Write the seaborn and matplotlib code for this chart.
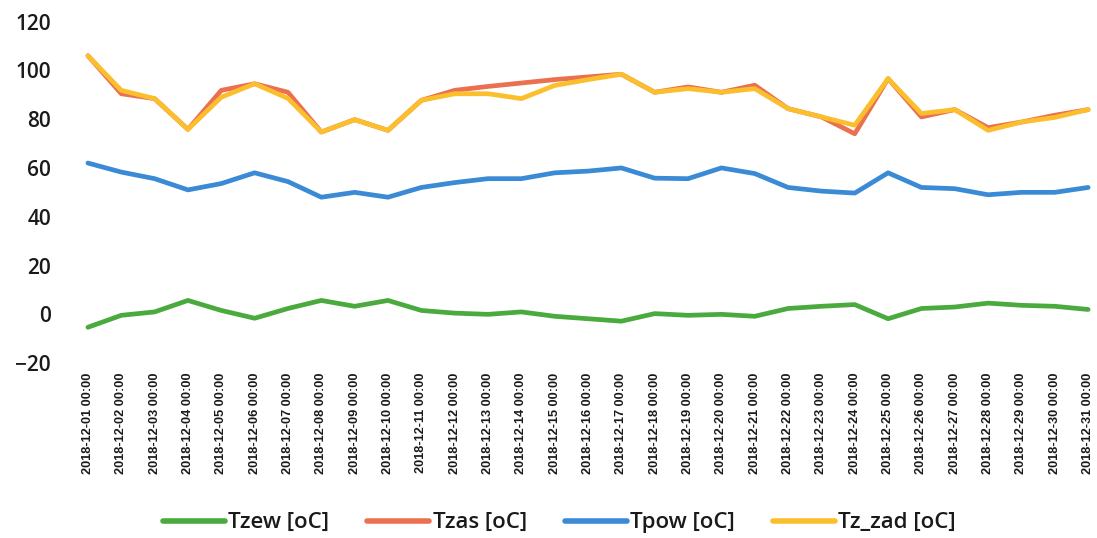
import numpy as np
import pandas as pd
import matplotlib
matplotlib.use("Agg")
import matplotlib.pyplot as plt
import seaborn as sns

dates = [f"2018-12-{d:02d} 00:00" for d in range(1, 32)]

tzew = [-5.3, -0.4, 1.0, 5.7, 1.6, -1.6, 2.4, 5.7, 3.3, 5.7, 1.6, 0.5, 0.0, 1.0, -0.8,
        -1.8, -2.8, 0.3, -0.4, 0.0, -0.8, 2.4, 3.3, 4.0, -1.8, 2.4, 3.0, 4.6, 3.7, 3.3, 2.0]
tzas = [106, 90.4, 88.4, 75.8, 91.8, 94.5, 91.0, 74.7, 79.8, 75.4, 87.7, 91.8, 93.4, 94.8, 96.2,
        97.3, 98.4, 91.0, 93.2, 91.0, 93.9, 84.3, 80.9, 74.0, 96.6, 80.9, 83.9, 76.5, 78.8, 81.6, 83.9]
tpow = [62, 58.3, 55.6, 51, 53.6, 58, 54.4, 48, 50, 48, 52, 54, 55.6, 55.6, 58,
        58.7, 60, 55.8, 55.6, 60, 57.7, 52, 50.5, 49.7, 58, 52, 51.5, 49, 50, 50, 52]
tz_zad = [106, 91.8, 88.4, 75.8, 89.0, 94.5, 88.5, 74.7, 79.8, 75.4, 87.7, 90.4, 90.4, 88.4, 93.8,
          96.2, 98.4, 91.0, 92.5, 91.0, 92.5, 84.3, 80.9, 77.5, 96.6, 82.3, 83.9, 75.4, 78.8, 80.7, 83.9]

series_names = ["Tzew [oC]", "Tzas [oC]", "Tpow [oC]", "Tz_zad [oC]"]
colors = ["#4AAA3E", "#EA7050", "#3A8AD6", "#FBBF2E"]

rows = []
for name, vals in zip(series_names, [tzew, tzas, tpow, tz_zad]):
    for i, v in enumerate(vals):
        rows.append({"idx": i, "value": v, "series": name})
df = pd.DataFrame(rows)

sns.set_theme(style="white")
plt.rcParams["font.family"] = ["Open Sans", "DejaVu Sans"]

fig = plt.figure(figsize=(10.97, 5.38), dpi=100)
ax = fig.add_axes([0.068, 0.325, 0.93, 0.635])

sns.lineplot(data=df, x="idx", y="value", hue="series", hue_order=series_names,
             palette=colors, linewidth=3.4, ax=ax, legend=True)

ax.set_xlim(-0.4, 30.2)
ax.set_ylim(-20, 120)
ax.set_yticks(range(-20, 121, 20))
ax.set_xticks(range(len(dates)))
ax.set_xticklabels(dates, rotation=90, fontsize=9.2, fontweight="bold",
                   family=["Liberation Sans", "DejaVu Sans"])
for lbl in ax.get_yticklabels():
    lbl.set_fontsize(15)
    lbl.set_fontweight("semibold")
ax.tick_params(axis="y", length=0, pad=17, colors="#1a1a1a")
ax.tick_params(axis="x", length=0, pad=7, colors="#1a1a1a")
ax.set_xlabel("")
ax.set_ylabel("")
for s in ax.spines.values():
    s.set_visible(False)

handles, labels = ax.get_legend_handles_labels()
ax.legend_.remove()
fig.legend(handles, labels, loc="center", bbox_to_anchor=(0.51, 0.028), ncol=4,
           frameon=False, prop={"size": 16, "weight": "semibold"},
           handlelength=2.8, handletextpad=0.15, columnspacing=1.7,
           labelcolor="#1a1a1a")
for h in fig.legends[0].get_lines():
    h.set_linewidth(4)

fig.savefig("out.png", dpi=100)
